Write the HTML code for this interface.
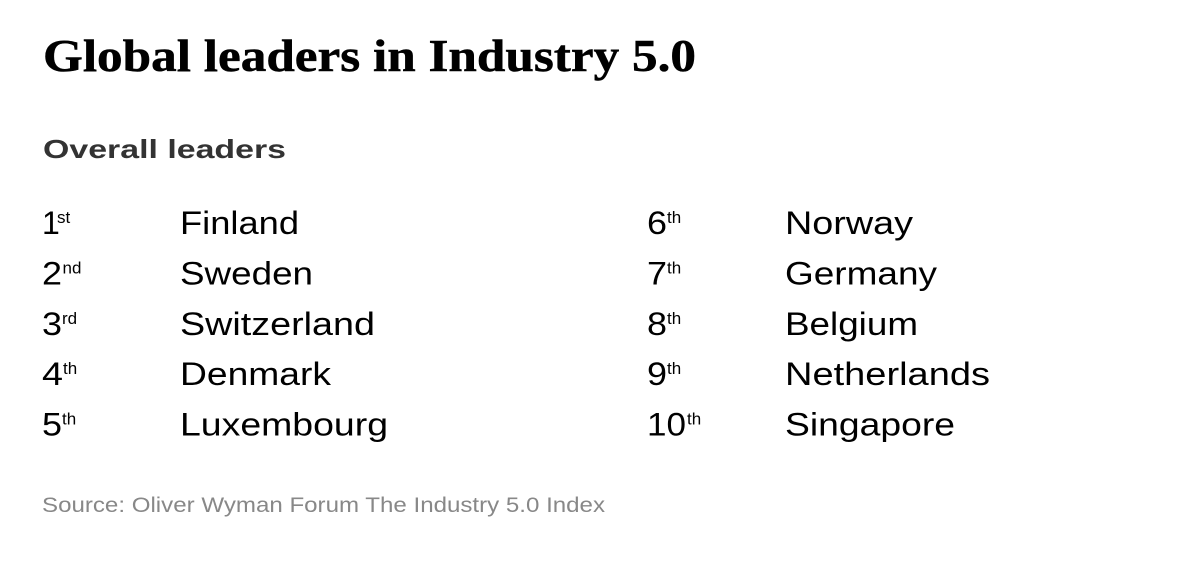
<!DOCTYPE html>
<html>
<head>
<meta charset="utf-8">
<style>
  html, body { margin:0; padding:0; background:#ffffff; }
  body { width:1202px; height:564px; overflow:hidden; }
  svg { display:block; }
  .t { font-family:"Liberation Serif", serif; font-weight:bold; }
  .s { font-family:"Liberation Sans", sans-serif; }
</style>
</head>
<body>
<svg width="1202" height="564" viewBox="0 0 1202 564" xmlns="http://www.w3.org/2000/svg">
  <rect width="1202" height="564" fill="#ffffff"/>
  <text class="t" x="43" y="71" font-size="46" fill="#000" stroke="#000" stroke-width="0.5" textLength="653" lengthAdjust="spacingAndGlyphs">Global leaders in Industry 5.0</text>
  <text class="s" x="43" y="158" font-size="26" font-weight="bold" fill="#333333" textLength="243" lengthAdjust="spacingAndGlyphs">Overall leaders</text>

  <g class="s" fill="#000">
    <!-- left column -->
    <text x="42" y="234" font-size="32">1</text>
    <text x="57" y="223" font-size="17">st</text>
    <text x="180" y="234" font-size="32" textLength="119" lengthAdjust="spacingAndGlyphs">Finland</text>

    <text x="42" y="284.5" font-size="32" textLength="20" lengthAdjust="spacingAndGlyphs">2</text>
    <text x="62.5" y="273.5" font-size="17">nd</text>
    <text x="180" y="284.5" font-size="32" textLength="133" lengthAdjust="spacingAndGlyphs">Sweden</text>

    <text x="42" y="335" font-size="32" textLength="20" lengthAdjust="spacingAndGlyphs">3</text>
    <text x="62" y="324" font-size="17">rd</text>
    <text x="180" y="335" font-size="32" textLength="195" lengthAdjust="spacingAndGlyphs">Switzerland</text>

    <text x="42" y="385" font-size="32" textLength="21" lengthAdjust="spacingAndGlyphs">4</text>
    <text x="63" y="374" font-size="17">th</text>
    <text x="180" y="385" font-size="32" textLength="151" lengthAdjust="spacingAndGlyphs">Denmark</text>

    <text x="42" y="435.5" font-size="32" textLength="20" lengthAdjust="spacingAndGlyphs">5</text>
    <text x="62" y="424.5" font-size="17">th</text>
    <text x="180" y="435.5" font-size="32" textLength="208" lengthAdjust="spacingAndGlyphs">Luxembourg</text>

    <!-- right column -->
    <text x="647" y="234" font-size="32" textLength="20" lengthAdjust="spacingAndGlyphs">6</text>
    <text x="667" y="223" font-size="17">th</text>
    <text x="785" y="234" font-size="32" textLength="128" lengthAdjust="spacingAndGlyphs">Norway</text>

    <text x="647" y="284.5" font-size="32" textLength="20" lengthAdjust="spacingAndGlyphs">7</text>
    <text x="667" y="273.5" font-size="17">th</text>
    <text x="785" y="284.5" font-size="32" textLength="152" lengthAdjust="spacingAndGlyphs">Germany</text>

    <text x="647" y="335" font-size="32" textLength="20" lengthAdjust="spacingAndGlyphs">8</text>
    <text x="667" y="324" font-size="17">th</text>
    <text x="785" y="335" font-size="32" textLength="133" lengthAdjust="spacingAndGlyphs">Belgium</text>

    <text x="647" y="385" font-size="32" textLength="20" lengthAdjust="spacingAndGlyphs">9</text>
    <text x="667" y="374" font-size="17">th</text>
    <text x="785" y="385" font-size="32" textLength="205" lengthAdjust="spacingAndGlyphs">Netherlands</text>

    <text x="647" y="435.5" font-size="32" textLength="39" lengthAdjust="spacingAndGlyphs">10</text>
    <text x="687" y="424.5" font-size="17">th</text>
    <text x="785" y="435.5" font-size="32" textLength="170" lengthAdjust="spacingAndGlyphs">Singapore</text>
  </g>

  <text class="s" x="42" y="512" font-size="21.5" fill="#888888" textLength="563" lengthAdjust="spacingAndGlyphs">Source: Oliver Wyman Forum The Industry 5.0 Index</text>
</svg>
</body>
</html>
